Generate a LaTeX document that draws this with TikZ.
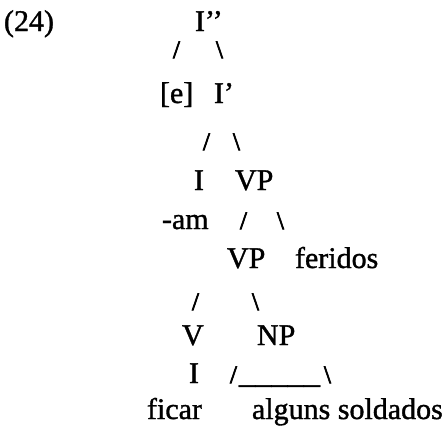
\documentclass[tikz,border=0pt]{standalone}
\usepackage{fontspec}
\setmainfont{Liberation Serif}[FakeBold=1.2]
\newfontfamily\slashfont{Liberation Serif}[FakeBold=3]
\begin{document}
\begin{tikzpicture}[x=1pt,y=-1pt,
  lbl/.style={anchor=base west,inner sep=0pt,outer sep=0pt,font=\fontsize{30}{32}\selectfont},
  sl/.style={anchor=base west,inner sep=0pt,outer sep=0pt,font=\slashfont\fontsize{25}{27}\selectfont}]
\useasboundingbox (0,0) rectangle (448,429);
% row 1
\node[lbl] (num) at (4,31) {(24)};
\node[lbl] (ipp) at (195,31) {I’’};
% row 2
\node[sl] (s1l) at (173,58) {/};
\node[sl] (s1r) at (216,58) {\textbackslash};
% row 3
\node[lbl] (e) at (160,103) {[e]};
\node[lbl] (ip) at (214,103) {I’};
% row 4
\node[sl] (s2l) at (203,150) {/};
\node[sl] (s2r) at (233,150) {\textbackslash};
% row 5
\node[lbl] (i) at (194,190) {I};
\node[lbl] (vp1) at (235,190) {VP};
% row 6
\node[lbl] (am) at (162,229) {-am};
\node[sl] (s3l) at (240,229) {/};
\node[sl] (s3r) at (277,229) {\textbackslash};
% row 7
\node[lbl] (vp2) at (227,268) {VP};
\node[lbl] (fer) at (295,268) {feridos};
% row 8
\node[sl] (s4l) at (192,310) {/};
\node[sl] (s4r) at (252,310) {\textbackslash};
% row 9
\node[lbl] (v) at (182,345) {V};
\node[lbl] (np) at (257,345) {NP};
% row 10
\node[lbl] (i2) at (189,383) {I};
\node[sl] (s5l) at (230,383) {/};
\node[lbl] (und) at (239,383) {\scalebox{1.08}[1]{\_\_\_\_\_}};
\node[sl] (s5r) at (324,383) {\textbackslash};
% row 11
\node[lbl] (fic) at (147,419) {ficar};
\node[lbl] (als) at (252,419) {alguns soldados};
\end{tikzpicture}
\end{document}
